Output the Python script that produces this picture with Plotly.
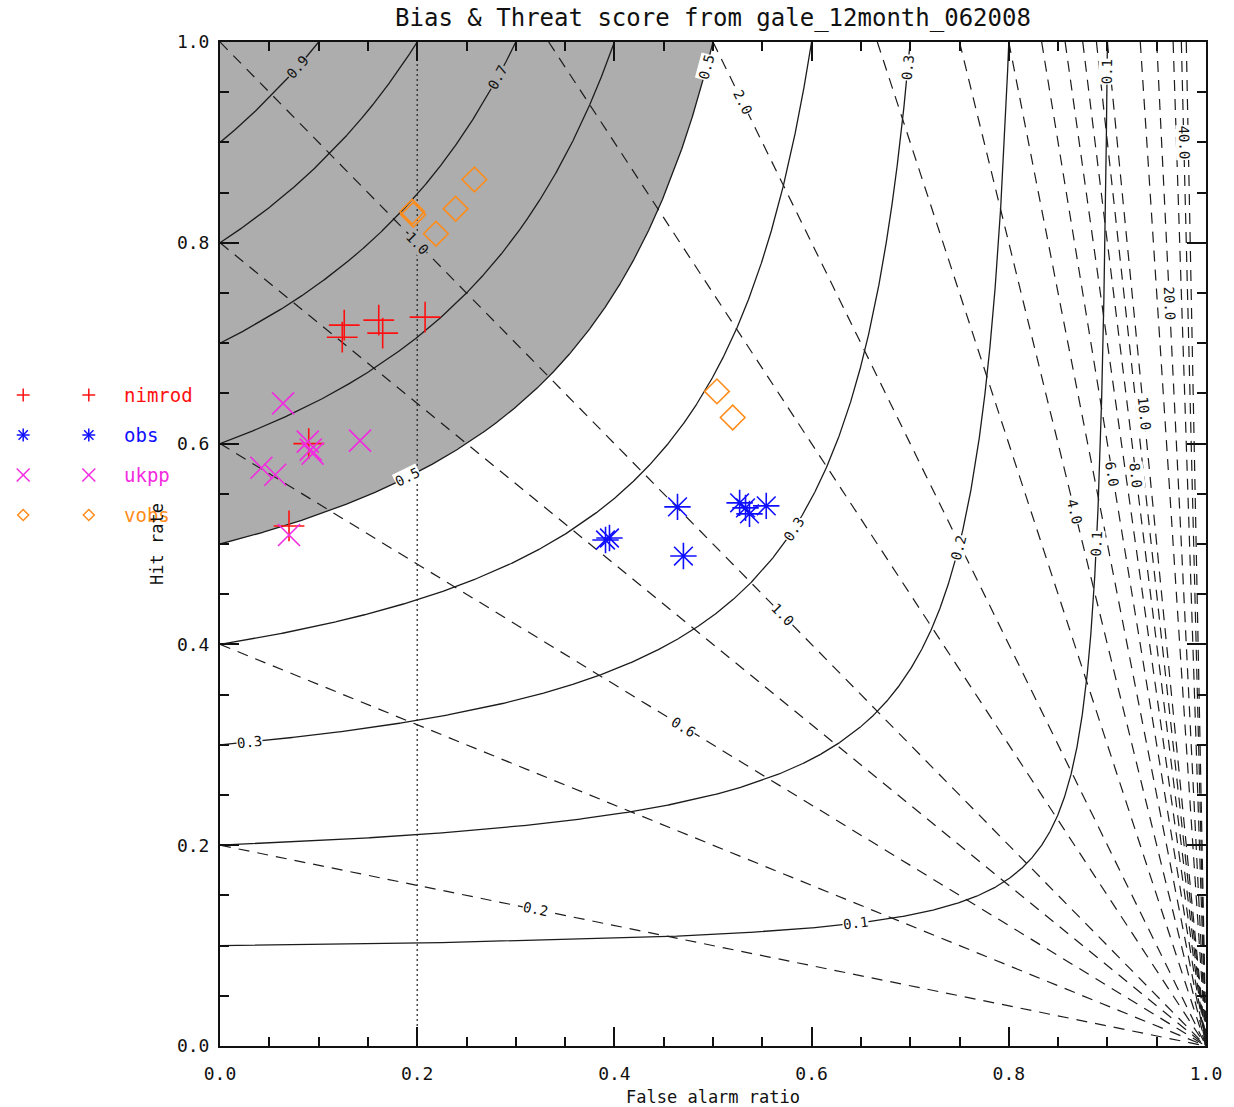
import numpy as np
import plotly.graph_objects as go

# ---------------------------------------------------------------- data
TITLE = "Bias & Threat score from gale_12month_062008"
X_LABEL = "False alarm ratio"
Y_LABEL = "Hit rate"

# threat score (CSI) isolines, solid; bias isolines, dashed
csi_levels = [0.1, 0.2, 0.3, 0.4, 0.5, 0.6, 0.7, 0.8, 0.9]
bias_levels = [0.2, 0.4, 0.6, 0.8, 1.0, 1.5, 2.0, 3.0, 4.0, 5.0, 6.0, 7.0,
               8.0, 9.0, 10.0, 15.0, 20.0, 30.0, 40.0, 50.0]
shade_level = 0.5        # region with CSI above this is shaded
reference_far = 0.2      # dotted vertical reference line

series_names = ["nimrod", "obs", "ukpp", "vobs"]

nimrod_far = [0.126, 0.124, 0.161, 0.165, 0.208, 0.090, 0.070]
nimrod_hit = [0.718, 0.706, 0.723, 0.710, 0.726, 0.600, 0.518]

obs_far = [0.391, 0.395, 0.464, 0.470, 0.527, 0.533, 0.537, 0.554]
obs_hit = [0.504, 0.506, 0.537, 0.488, 0.541, 0.536, 0.530, 0.538]

ukpp_far = [0.064, 0.089, 0.092, 0.094, 0.142, 0.042, 0.056, 0.070]
ukpp_hit = [0.640, 0.602, 0.594, 0.590, 0.603, 0.576, 0.569, 0.509]

vobs_far = [0.195, 0.196, 0.219, 0.239, 0.258, 0.504, 0.520]
vobs_hit = [0.831, 0.828, 0.809, 0.834, 0.863, 0.652, 0.626]

# where the isoline labels sit: (level, "F" or "H", coordinate along that axis)
csi_label_spots = [
    (0.9, "H", 0.975), (0.7, "H", 0.965), (0.5, "H", 0.975), (0.5, "F", 0.19),
    (0.3, "H", 0.975), (0.3, "F", 0.03), (0.3, "F", 0.582), (0.2, "F", 0.749),
    (0.1, "H", 0.97), (0.1, "F", 0.645), (0.1, "H", 0.5),
]
bias_label_spots = [
    (0.2, 0.32), (0.6, 0.47), (1.0, 0.20), (1.0, 0.57), (2.0, 0.53),
    (4.0, 0.867), (6.0, 0.905), (8.0, 0.929), (10.0, 0.937), (20.0, 0.963),
    (40.0, 0.9775),
]

# ---------------------------------------------------------------- style
FONT = "DejaVu Sans Mono"
LINE = "#1c1c1c"
SHADE = "#adadad"
COLORS = {"nimrod": "#ff1010", "obs": "#1010ff", "ukpp": "#f22ae0", "vobs": "#ff8c1a"}
SYMBOLS = {"nimrod": "cross-thin-open", "obs": "asterisk-open",
           "ukpp": "x-thin-open", "vobs": "diamond-open"}
SIZES = {"nimrod": 22, "obs": 22, "ukpp": 22, "vobs": 19}

W, H_PX = 1234, 1107
L, R, T, B = 220, 22, 42, 61
PW, PH = W - L - R, H_PX - T - B


def px_to_paper(px):
    return (px - L) / PW


def py_to_paper(py):
    return (T + PH - py) / PH


def csi(far, hit):
    return 1.0 / (1.0 / hit + 1.0 / (1.0 - far) - 1.0)


def csi_curve(c):
    f1 = np.linspace(0.0, 1.0 - c, 900, endpoint=False)
    h1 = 1.0 / (1.0 / c + 1.0 - 1.0 / (1.0 - f1))
    h2 = np.linspace(c, 1.0, 900)
    f2 = 1.0 - 1.0 / (1.0 / c + 1.0 - 1.0 / h2)
    f = np.concatenate([f1, f2, [1.0 - c]])
    h = np.concatenate([h1, h2, [1.0]])
    order = np.lexsort((h, f))
    return f[order], h[order]


def csi_point(c, axis, v):
    if axis == "F":
        return v, 1.0 / (1.0 / c + 1.0 - 1.0 / (1.0 - v))
    return 1.0 - 1.0 / (1.0 / c + 1.0 - 1.0 / v), v


def screen_angle(df, dh):
    return float(np.degrees(np.arctan2(-dh * PH, df * PW)))


def bias_segment(b):
    if b <= 1.0:
        return [0.0, 1.0], [b, 0.0]
    return [1.0 - 1.0 / b, 1.0], [1.0, 0.0]


fig = go.Figure()

# shaded region of high threat score
sf, sh = csi_curve(shade_level)
fig.add_trace(go.Scatter(
    x=np.concatenate([sf, [0.0, 0.0]]), y=np.concatenate([sh, [1.0, shade_level]]),
    fill="toself", fillcolor=SHADE, mode="lines", line=dict(width=0),
    hoverinfo="skip", showlegend=False))

# bias isolines
bx, by = [], []
for b in bias_levels:
    xs, ys = bias_segment(b)
    bx += xs + [None]
    by += ys + [None]
fig.add_trace(go.Scatter(x=bx, y=by, mode="lines",
                         line=dict(color=LINE, width=1.2, dash="11px,8px"),
                         hoverinfo="skip", showlegend=False))

# threat score isolines
cx, cy = [], []
for c in csi_levels:
    f, h = csi_curve(c)
    cx += list(f) + [None]
    cy += list(h) + [None]
fig.add_trace(go.Scatter(x=cx, y=cy, mode="lines",
                         line=dict(color=LINE, width=1.3),
                         hoverinfo="skip", showlegend=False))

# reference false alarm ratio
fig.add_trace(go.Scatter(x=[reference_far, reference_far], y=[0.0, 1.0], mode="lines",
                         line=dict(color=LINE, width=1.2, dash="2px,3px"),
                         hoverinfo="skip", showlegend=False))

# verification points
series = {
    "nimrod": (nimrod_far, nimrod_hit),
    "obs": (obs_far, obs_hit),
    "ukpp": (ukpp_far, ukpp_hit),
    "vobs": (vobs_far, vobs_hit),
}
for name in series_names:
    fx, hy = series[name]
    fig.add_trace(go.Scatter(
        x=fx, y=hy, mode="markers", name=name, showlegend=False,
        marker=dict(symbol=SYMBOLS[name], size=SIZES[name], color=COLORS[name],
                    line=dict(width=1.6, color=COLORS[name]))))

annotations = []


def label_bg(f, h):
    return SHADE if csi(f, h) > shade_level + 0.01 else "white"


for c, axis, v in csi_label_spots:
    f, h = csi_point(c, axis, v)
    if axis == "F":
        f2, h2 = csi_point(c, "F", v + 1e-4)
    else:
        f2, h2 = csi_point(c, "H", v + 1e-4)
    ang = screen_angle(f2 - f, h2 - h)
    annotations.append(dict(
        x=f, y=h, xref="x", yref="y", text=f"{c:.1f}", showarrow=False,
        textangle=ang, font=dict(family=FONT, size=14, color="#111"),
        bgcolor=label_bg(f, h), borderpad=0))

for b, f in bias_label_spots:
    h = b * (1.0 - f)
    ang = screen_angle(1.0, -b)
    annotations.append(dict(
        x=f, y=h, xref="x", yref="y", text=f"{b:.1f}", showarrow=False,
        textangle=ang, font=dict(family=FONT, size=14, color="#111"),
        bgcolor=label_bg(f, h), borderpad=0))


# legend drawn beside the plot: two symbol columns and a coloured name
def seg(x0, y0, x1, y1, color):
    return dict(type="line", xref="paper", yref="paper",
                x0=px_to_paper(x0), y0=py_to_paper(y0),
                x1=px_to_paper(x1), y1=py_to_paper(y1),
                line=dict(color=color, width=1.5), layer="above")


def legend_symbol(name, cx, cy, r=6.5):
    col = COLORS[name]
    if name == "nimrod":
        return [seg(cx - r, cy, cx + r, cy, col), seg(cx, cy - r, cx, cy + r, col)]
    if name == "ukpp":
        return [seg(cx - r, cy - r, cx + r, cy + r, col),
                seg(cx - r, cy + r, cx + r, cy - r, col)]
    if name == "obs":
        d = r * 0.72
        return [seg(cx - r, cy, cx + r, cy, col), seg(cx, cy - r, cx, cy + r, col),
                seg(cx - d, cy - d, cx + d, cy + d, col),
                seg(cx - d, cy + d, cx + d, cy - d, col)]
    rr = r * 0.85
    pts = [(cx, cy - rr), (cx + rr, cy), (cx, cy + rr), (cx - rr, cy)]
    path = "M " + " L ".join(f"{px_to_paper(px):.5f},{py_to_paper(py):.5f}"
                             for px, py in pts) + " Z"
    return [dict(type="path", xref="paper", yref="paper", path=path,
                 line=dict(color=col, width=1.5), layer="above")]


shapes = []
legend_rows_py = [395, 435, 475, 515]
for name, py in zip(series_names, legend_rows_py):
    shapes += legend_symbol(name, 22, py)
    shapes += legend_symbol(name, 88, py)
    annotations.append(dict(
        x=px_to_paper(121), y=py_to_paper(py), xref="paper", yref="paper",
        text=name, showarrow=False, xanchor="left", yanchor="middle",
        font=dict(family=FONT, size=19, color=COLORS[name])))

# axis titles
annotations.append(dict(x=0.5, y=0, xref="paper", yref="paper", yshift=-51,
                        text=X_LABEL, showarrow=False, yanchor="middle",
                        font=dict(family=FONT, size=17, color="#111")))
annotations.append(dict(x=0, y=0.5, xref="paper", yref="paper", xshift=-63,
                        text=Y_LABEL, showarrow=False, textangle=-90,
                        xanchor="center", yanchor="middle",
                        font=dict(family=FONT, size=17, color="#111")))

axis_common = dict(
    range=[0, 1], tickvals=[0, 0.2, 0.4, 0.6, 0.8, 1.0],
    ticktext=["0.0", "0.2", "0.4", "0.6", "0.8", "1.0"],
    ticks="inside", ticklen=19, tickwidth=1.5, tickcolor="#111",
    minor=dict(dtick=0.05, ticks="inside", ticklen=9, tickwidth=1.5, tickcolor="#111"),
    showline=True, linewidth=2, linecolor="#111", mirror="ticks",
    showgrid=False, zeroline=False,
    tickfont=dict(family=FONT, size=18, color="#111"),
)

fig.update_layout(
    width=W, height=H_PX,
    margin=dict(l=L, r=R, t=T, b=B),
    paper_bgcolor="white", plot_bgcolor="white",
    title=dict(text=TITLE, x=0.5, xref="paper", y=1 - 18 / H_PX, yanchor="middle",
               font=dict(family=FONT, size=24, color="#111")),
    xaxis=dict(axis_common, ticklabelstandoff=10),
    yaxis=dict(axis_common, ticklabelstandoff=5),
    annotations=annotations,
    shapes=shapes,
    showlegend=False,
)

fig.write_html("out.html")
